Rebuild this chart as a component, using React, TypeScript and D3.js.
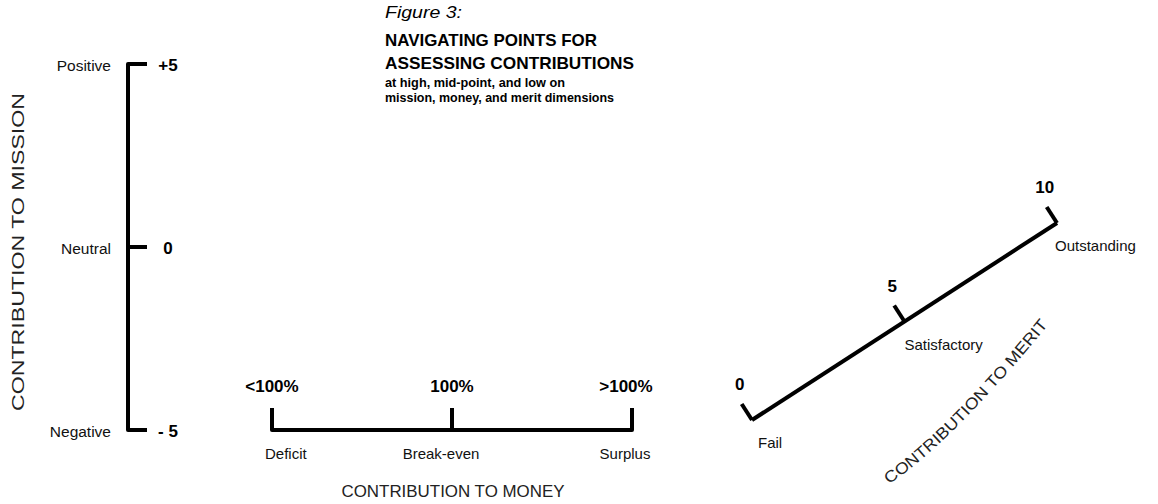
import React from 'react'
import * as d3 from 'd3'

const missionValues = [5, 0, -5]
const missionTickLabels = ['+5', '0', '- 5']
const missionLevelLabels = ['Positive', 'Neutral', 'Negative']

const moneyCategories = ['<100%', '100%', '>100%']
const moneyLevelLabels = ['Deficit', 'Break-even', 'Surplus']

const meritValues = [0, 5, 10]
const meritTickLabels = ['0', '5', '10']
const meritLevelLabels = ['Fail', 'Satisfactory', 'Outstanding']

const titleLines = [
  'Figure 3:',
  'NAVIGATING POINTS FOR',
  'ASSESSING CONTRIBUTIONS',
  'at high, mid-point, and low on',
  'mission, money, and merit dimensions',
]

const W = 1158
const H = 504
const NARROW = '"Liberation Sans Narrow", "Arial Narrow", "Liberation Sans", Arial, sans-serif'
const SANS = '"Liberation Sans", Arial, sans-serif'

export default function App() {
  // mission axis (vertical)
  const yMission = d3.scaleLinear().domain([-5, 5]).range([430, 64])
  const missionX = 128

  // money axis (horizontal)
  const xMoney = d3.scalePoint<string>().domain(moneyCategories).range([272, 632])
  const moneyY = 430

  // merit axis (diagonal)
  const meritX = d3.scaleLinear().domain([0, 10]).range([752, 1057])
  const meritY = d3.scaleLinear().domain([0, 10]).range([420, 223])
  const dx = meritX(10) - meritX(0)
  const dy = meritY(10) - meritY(0)
  const len = Math.hypot(dx, dy)
  const nx = dy / len // perpendicular, pointing up-left
  const ny = -dx / len
  const tickLen = 19

  const titleStyle = [
    { size: 17, weight: 'normal', style: 'italic', y: 18, len: 77 },
    { size: 17, weight: 'bold', style: 'normal', y: 46, len: 212 },
    { size: 17, weight: 'bold', style: 'normal', y: 69, len: 249 },
    { size: 12.5, weight: 'bold', style: 'normal', y: 87, len: 180 },
    { size: 12.5, weight: 'bold', style: 'normal', y: 102, len: 229 },
  ]

  // slightly curved baseline for the merit axis title
  const meritTitlePath = `M889,484 Q950,444 1049,324`

  return (
    <svg
      width={W}
      height={H}
      style={{ position: 'absolute', left: 0, top: 0, background: '#fff' }}
    >
      <defs>
        <path id="meritTitlePath" d={meritTitlePath} fill="none" />
      </defs>

      {/* Title block */}
      {titleLines.map((t, i) => (
        <text
          key={t}
          x={385}
          y={titleStyle[i].y}
          fontFamily={SANS}
          fontSize={titleStyle[i].size}
          fontWeight={titleStyle[i].weight}
          fontStyle={titleStyle[i].style}
          textLength={titleStyle[i].len}
          lengthAdjust="spacingAndGlyphs"
          fill="#000"
        >
          {t}
        </text>
      ))}

      {/* Mission axis */}
      <line
        x1={missionX}
        x2={missionX}
        y1={yMission(5)}
        y2={yMission(-5)}
        stroke="#000"
        strokeWidth={4}
        strokeLinecap="round"
      />
      {missionValues.map((v, i) => (
        <g key={v}>
          <line
            x1={missionX}
            x2={missionX + 19}
            y1={yMission(v)}
            y2={yMission(v)}
            stroke="#000"
            strokeWidth={4}
          />
          <text
            x={missionX + 40}
            y={yMission(v) + 7}
            textAnchor="middle"
            fontFamily={NARROW}
            fontWeight="bold"
            fontSize={17}
            fill="#000"
          >
            {missionTickLabels[i]}
          </text>
          <text
            x={missionX - 17}
            y={yMission(v) + 7}
            textAnchor="end"
            fontFamily={NARROW}
            fontSize={15.5}
            fill="#111"
          >
            {missionLevelLabels[i]}
          </text>
        </g>
      ))}
      <text
        transform={`translate(24,${yMission(0) + 5}) rotate(-90)`}
        textAnchor="middle"
        fontFamily={SANS}
        fontSize={16}
        textLength={318}
        lengthAdjust="spacingAndGlyphs"
        fill="#222"
      >
        CONTRIBUTION TO MISSION
      </text>

      {/* Money axis */}
      <line
        x1={xMoney(moneyCategories[0])}
        x2={xMoney(moneyCategories[2])}
        y1={moneyY}
        y2={moneyY}
        stroke="#000"
        strokeWidth={4}
        strokeLinecap="round"
      />
      {moneyCategories.map((c, i) => (
        <g key={c}>
          <line
            x1={xMoney(c)}
            x2={xMoney(c)}
            y1={moneyY}
            y2={moneyY - 22}
            stroke="#000"
            strokeWidth={4}
          />
          <text
            x={(xMoney(c) as number) - (i === 2 ? 6 : 0)}
            y={moneyY - 38}
            textAnchor="middle"
            fontFamily={NARROW}
            fontWeight="bold"
            fontSize={17}
            fill="#000"
          >
            {c}
          </text>
          <text
            x={(xMoney(c) as number) + (i === 0 ? -7 : i === 1 ? -11 : -7)}
            y={moneyY + 29}
            textAnchor={i === 0 ? 'start' : 'middle'}
            fontFamily={NARROW}
            fontSize={15}
            fill="#111"
          >
            {moneyLevelLabels[i]}
          </text>
        </g>
      ))}
      <text
        x={453}
        y={497}
        textAnchor="middle"
        fontFamily={SANS}
        fontSize={16}
        textLength={223}
        lengthAdjust="spacingAndGlyphs"
        fill="#222"
      >
        CONTRIBUTION TO MONEY
      </text>

      {/* Merit axis */}
      <line
        x1={meritX(0)}
        y1={meritY(0)}
        x2={meritX(10)}
        y2={meritY(10)}
        stroke="#000"
        strokeWidth={4}
      />
      {meritValues.map((v, i) => {
        const x0 = meritX(v)
        const y0 = meritY(v)
        const x1 = x0 + nx * tickLen
        const y1 = y0 + ny * tickLen
        return (
          <g key={v}>
            <line x1={x0} y1={y0} x2={x1} y2={y1} stroke="#000" strokeWidth={4} />
            <text
              x={x1 - 2}
              y={y1 - 14}
              textAnchor="middle"
              fontFamily={NARROW}
              fontWeight="bold"
              fontSize={17}
              fill="#000"
            >
              {meritTickLabels[i]}
            </text>
            <text
              x={x0 + (i === 0 ? 6 : i === 1 ? 0 : -2)}
              y={y0 + 28}
              fontFamily={NARROW}
              fontSize={15}
              fill="#111"
            >
              {meritLevelLabels[i]}
            </text>
          </g>
        )
      })}
      <text fontFamily={SANS} fontSize={16} fill="#222">
        <textPath href="#meritTitlePath" textLength={226} lengthAdjust="spacingAndGlyphs">
          CONTRIBUTION TO MERIT
        </textPath>
      </text>
    </svg>
  )
}
